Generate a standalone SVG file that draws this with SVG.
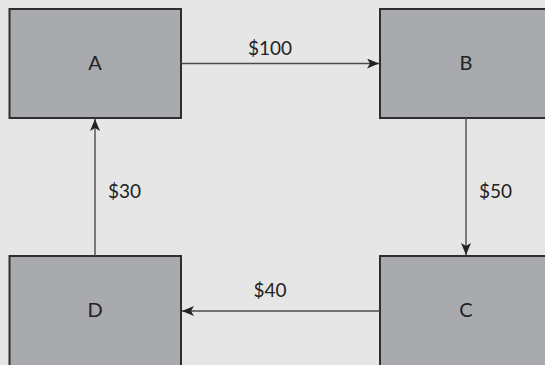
<svg xmlns="http://www.w3.org/2000/svg" width="545" height="365" viewBox="0 0 545 365">
  <defs>
    <marker id="ah" markerWidth="12" markerHeight="10" viewBox="0 0 12 10" refX="12" refY="5" orient="auto" markerUnits="userSpaceOnUse">
      <path d="M0,0 L12,5 L0,10 L3,5 Z" fill="#222"/>
    </marker>
    <style>
      .box { fill: #a9aaad; stroke: #2e2e2e; stroke-width: 2; }
      .lbl { font-family: Lato, "Open Sans", sans-serif; font-size: 20px; fill: #222; text-anchor: middle; }
      .edge { stroke: #4a4a4a; stroke-width: 1.4; fill: none; marker-end: url(#ah); }
      .elbl { font-family: Lato, "Open Sans", sans-serif; font-size: 19px; fill: #222; }
    </style>
  </defs>
  <rect width="545" height="365" fill="#e6e6e6"/>
  <g id="node-A">
    <rect class="box" x="9.5" y="9" width="171.5" height="109"/>
    <text class="lbl" x="95" y="70">A</text>
  </g>
  <g id="node-B">
    <rect class="box" x="380" y="9" width="172" height="109"/>
    <text class="lbl" x="466" y="70">B</text>
  </g>
  <g id="node-C">
    <rect class="box" x="380" y="256" width="172" height="112"/>
    <text class="lbl" x="466" y="317">C</text>
  </g>
  <g id="node-D">
    <rect class="box" x="9.5" y="256" width="171.5" height="112"/>
    <text class="lbl" x="95" y="317">D</text>
  </g>
  <g id="connectors">
    <line class="edge" x1="181" y1="63.5" x2="379" y2="63.5"/>
    <text class="elbl" x="270" y="55" text-anchor="middle">$100</text>
    <line class="edge" x1="466" y1="118" x2="466" y2="255"/>
    <text class="elbl" x="479" y="198">$50</text>
    <line class="edge" x1="380" y1="311" x2="182" y2="311"/>
    <text class="elbl" x="270" y="297" text-anchor="middle">$40</text>
    <line class="edge" x1="95" y1="256" x2="95" y2="119"/>
    <text class="elbl" x="108" y="198">$30</text>
  </g>
</svg>
